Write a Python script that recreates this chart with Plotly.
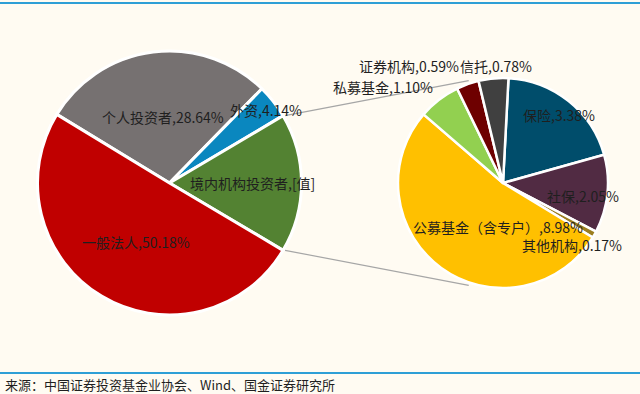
import math
import plotly.graph_objects as go

# ---------------- data ----------------
left_labels = ["个人投资者", "外资", "境内机构投资者", "一般法人"]
left_values = [28.64, 4.14, 17.04, 50.18]
left_value_text = ["28.64%", "4.14%", "[值]", "50.18%"]

right_labels = ["保险", "社保", "其他机构", "公募基金（含专户）", "私募基金", "证券机构", "信托"]
right_values = [3.38, 2.05, 0.17, 8.98, 1.10, 0.59, 0.78]
right_value_text = ["3.38%", "2.05%", "0.17%", "8.98%", "1.10%", "0.59%", "0.78%"]

source_text = "来源：中国证券投资基金业协会、Wind、国金证券研究所"

# ---------------- styles / layout ----------------
W, H = 640, 394
BG = "#FFFBF2"
left_colors = ["#767171", "#0A87BF", "#538232", "#C00000"]
right_colors = ["#004D6B", "#512B43", "#9C7E1F", "#FFC000", "#92D050", "#6E0000", "#404040"]

L_CX, L_CY, L_R = 169.5, 183.0, 132.0
R_CX, R_CY, R_R = 503.0, 183.0, 105.0
SPLIT_IDX = 2  # 境内机构投资者 is broken out into the second pie
RIGHT_ROT = 3.0
CONNECT_ANGLE = 18.5  # where the connector lines meet the second pie

def px(x):
    return x / W

def py(y):
    return 1 - y / H

def domain(cx, cy, r):
    return dict(x=[px(cx - r), px(cx + r)], y=[py(cy + r), py(cy - r)])

total_left = sum(left_values)
before = sum(left_values[:SPLIT_IDX])
left_rot = 90 - (before + left_values[SPLIT_IDX] / 2) / total_left * 360

fig = go.Figure()
fig.add_trace(go.Pie(
    labels=left_labels, values=left_values, sort=False, direction="clockwise",
    rotation=left_rot, domain=domain(L_CX, L_CY, L_R),
    marker=dict(colors=left_colors, line=dict(color="white", width=3)),
    textinfo="none", hoverinfo="label+percent", showlegend=False,
))
fig.add_trace(go.Pie(
    labels=right_labels, values=right_values, sort=False, direction="clockwise",
    rotation=RIGHT_ROT, domain=domain(R_CX, R_CY, R_R),
    marker=dict(colors=right_colors, line=dict(color="white", width=2.5)),
    textinfo="none", hoverinfo="label+value", showlegend=False,
))

# connector lines from the split slice to the second pie
a0 = math.radians(left_rot + before / total_left * 360)
a1 = math.radians(left_rot + (before + left_values[SPLIT_IDX]) / total_left * 360)
p_top = (L_CX + L_R * math.sin(a0), L_CY - L_R * math.cos(a0))
p_bot = (L_CX + L_R * math.sin(a1), L_CY - L_R * math.cos(a1))
b0 = math.radians(-CONNECT_ANGLE)
b1 = math.radians(180 + CONNECT_ANGLE)
q_top = (R_CX + (R_R + 3) * math.sin(b0), R_CY - (R_R + 3) * math.cos(b0))
q_bot = (R_CX + (R_R + 3) * math.sin(b1), R_CY - (R_R + 3) * math.cos(b1))

shapes = []
for p, q in [(p_top, q_top), (p_bot, q_bot)]:
    shapes.append(dict(type="line", xref="paper", yref="paper",
                       x0=px(p[0] + 2), y0=py(p[1]), x1=px(q[0]), y1=py(q[1]),
                       line=dict(color="#A6A6A6", width=1.2), layer="below"))
# blue rules at top and above the source line
for yy in [3, 373]:
    shapes.append(dict(type="line", xref="paper", yref="paper",
                       x0=0, x1=1, y0=py(yy), y1=py(yy),
                       line=dict(color="#2E9FD6", width=2)))

# data labels (pixel centres)
left_label_pos = [(163, 117), (266, 110), (252, 183), (136, 242)]
right_label_pos = [(559, 115), (583, 196), (572, 245), (498, 227), (383, 87), (409, 66), (496, 66)]

FONT = "Noto Sans CJK SC, Noto Sans, sans-serif"
LABEL_SIZE = 14
annotations = []
for lab, val, (x, y) in zip(left_labels, left_value_text, left_label_pos):
    annotations.append(dict(text=f"{lab},{val}", x=px(x), y=py(y), xref="paper", yref="paper",
                            showarrow=False, xanchor="center", yanchor="middle",
                            font=dict(family=FONT, size=LABEL_SIZE, color="#1F1F1F")))
for lab, val, (x, y) in zip(right_labels, right_value_text, right_label_pos):
    annotations.append(dict(text=f"{lab},{val}", x=px(x), y=py(y), xref="paper", yref="paper",
                            showarrow=False, xanchor="center", yanchor="middle",
                            font=dict(family=FONT, size=LABEL_SIZE, color="#1F1F1F")))
annotations.append(dict(text=source_text, x=px(3), y=py(384), xref="paper", yref="paper",
                        showarrow=False, xanchor="left", yanchor="middle",
                        font=dict(family=FONT, size=13, color="#1F1F1F")))

fig.update_layout(
    width=W, height=H, margin=dict(l=0, r=0, t=0, b=0),
    paper_bgcolor=BG, plot_bgcolor=BG,
    shapes=shapes, annotations=annotations, showlegend=False,
)

fig.write_html("out.html", config={"displayModeBar": False},
               post_script="document.body.style.margin='0';document.body.style.overflow='hidden';")
